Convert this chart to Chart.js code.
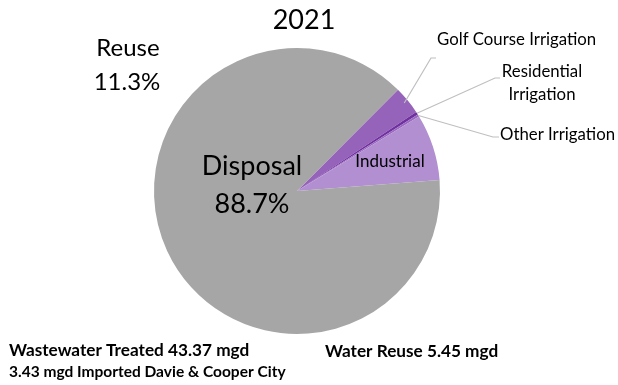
<!DOCTYPE html>
<html>
<head>
<meta charset="utf-8">
<script src="https://cdn.jsdelivr.net/npm/chart.js@4"></script>
<style>
html,body{margin:0;padding:0;background:#fff;}
#wrap{position:relative;width:618px;height:385px;}
</style>
</head>
<body>
<div id="wrap"><canvas id="c" width="618" height="385"></canvas></div>
<script>
// ---- data ----
const title = "2021";
const categories = ["Golf Course Irrigation", "Residential Irrigation", "Other Irrigation", "Industrial", "Disposal"];
const values = [3.2, 0.35, 0.25, 7.5, 88.7];
const colors = ["#9563b9", "#7030a0", "#9a6ac0", "#b18fd0", "#a6a6a6"];
const groupLabels = ["Reuse", "11.3%", "Disposal", "88.7%"];
const footnotes = ["Wastewater Treated 43.37 mgd", "3.43 mgd Imported Davie & Cooper City", "Water Reuse 5.45 mgd"];

const FONT = "Lato, 'Liberation Sans', sans-serif";

const labelPlugin = {
  id: 'labels',
  afterDraw(chart) {
    const ctx = chart.ctx;
    const meta = chart.getDatasetMeta(0);
    const arcs = meta.data;
    ctx.save();
    ctx.fillStyle = '#000';
    ctx.textBaseline = 'middle';

    // title
    ctx.textAlign = 'center';
    ctx.font = "27px " + FONT;
    ctx.fillText(title, 304, 20);

    // Reuse group label
    ctx.font = "24px " + FONT;
    ctx.fillText(groupLabels[0], 128, 48);
    ctx.fillText(groupLabels[1], 127, 82);

    // Disposal
    ctx.font = "27px " + FONT;
    ctx.fillText(groupLabels[2], 252, 166);
    ctx.fillText(groupLabels[3], 252, 204);

    // Industrial inside label
    ctx.font = "17px " + FONT;
    ctx.fillText(categories[3], 390, 162);

    // leader lines
    function edge(a, f) {
      const m = (a.startAngle + a.endAngle) / 2;
      return [a.x + Math.cos(m) * a.outerRadius * f, a.y + Math.sin(m) * a.outerRadius * f];
    }
    ctx.strokeStyle = '#bfbfbf';
    ctx.lineWidth = 1.2;
    const g = edge(arcs[0], 0.97);
    ctx.beginPath(); ctx.moveTo(g[0], g[1]); ctx.lineTo(431, 58); ctx.lineTo(436, 58); ctx.stroke();
    const r = edge(arcs[1], 1.0);
    ctx.beginPath(); ctx.moveTo(r[0], r[1]); ctx.lineTo(495, 78); ctx.lineTo(500, 78); ctx.stroke();
    const o = edge(arcs[2], 1.0);
    ctx.beginPath(); ctx.moveTo(o[0], o[1]); ctx.lineTo(493, 137); ctx.lineTo(499, 137); ctx.stroke();

    // outside labels
    ctx.font = "16.8px " + FONT;
    ctx.textAlign = 'left';
    ctx.fillText(categories[0], 437, 40);
    ctx.textAlign = 'center';
    ctx.fillText("Residential", 542, 72);
    ctx.fillText("Irrigation", 542, 95);
    ctx.textAlign = 'left';
    ctx.fillText(categories[2], 500, 135);

    // footnotes
    ctx.font = "bold 17.2px " + FONT;
    ctx.fillText(footnotes[0], 9, 350);
    ctx.font = "bold 15.5px " + FONT;
    ctx.fillText(footnotes[1], 9, 372);
    ctx.font = "bold 17.2px " + FONT;
    ctx.fillText(footnotes[2], 325, 351);
    ctx.restore();
  }
};

new Chart(document.getElementById('c'), {
  type: 'pie',
  data: {
    labels: categories,
    datasets: [{ data: values, backgroundColor: colors, borderWidth: 0 }]
  },
  options: {
    responsive: false,
    animation: false,
    rotation: 44.9,
    layout: { padding: { left: 154, right: 178, top: 48, bottom: 51 } },
    plugins: { legend: { display: false }, tooltip: { enabled: false } }
  },
  plugins: [labelPlugin]
});
</script>
</body>
</html>
